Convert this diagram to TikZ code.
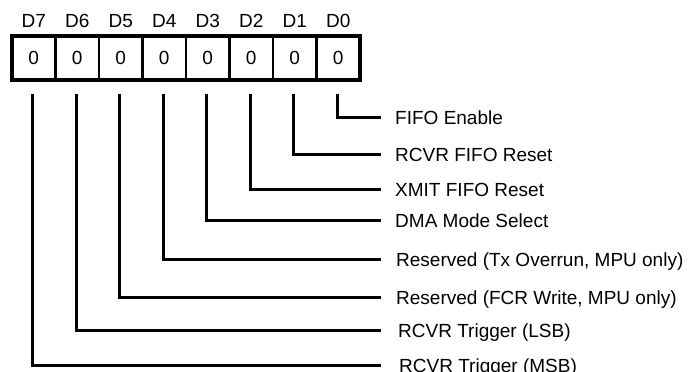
\documentclass[tikz,border=0pt]{standalone}
\usepackage{fontspec}
\setmainfont{Liberation Sans}
\usetikzlibrary{positioning}
\tikzset{
  bitcell/.style={draw,line width=2.5pt,minimum width=43.5pt,minimum height=44pt,
    outer sep=0pt,inner sep=0pt,text height=13.6pt,text depth=0pt},
  bitname/.style={inner sep=0pt,text height=13.6pt,text depth=0pt},
  bitlabel/.style={anchor=west,inner xsep=14pt,inner ysep=0pt,text height=14.6pt,text depth=0pt},
  wire/.style={line width=3pt}
}
\begin{document}
\begin{tikzpicture}
[x=1pt,y=-1pt,font=\fontsize{19}{22}\selectfont]
\useasboundingbox (0,0) rectangle (688,372);
% register cells
\node[bitcell] (b7) at (33.75,58) {0};
\node[bitcell,right=0pt of b7] (b6) {0};
\node[bitcell,right=0pt of b6] (b5) {0};
\node[bitcell,right=0pt of b5] (b4) {0};
\node[bitcell,right=0pt of b4] (b3) {0};
\node[bitcell,right=0pt of b3] (b2) {0};
\node[bitcell,right=0pt of b2] (b1) {0};
\node[bitcell,right=0pt of b1] (b0) {0};
\draw[line width=4pt] (b7.north west) rectangle (b0.south east);
% bit names
\foreach \b in {7,6,5,4,3,2,1,0}
  \node[bitname,above=8pt of b\b] (h\b) {D\b};
% wire tops
\foreach \b in {7,6,5,4,3,2,1,0}
  \coordinate (t\b) at ([xshift=-1pt,yshift=-14pt]b\b.south);
% bit meanings
\node[bitlabel] (l0) at (381,117) {FIFO Enable};
\node[bitlabel] (l1) at (381,154) {RCVR FIFO Reset};
\node[bitlabel] (l2) at (381,189) {XMIT FIFO Reset};
\node[bitlabel] (l3) at (381,220) {DMA Mode Select};
\node[bitlabel,inner xsep=15pt] (l4) at (381,259) {Reserved (Tx Overrun, MPU only)};
\node[bitlabel,inner xsep=15pt] (l5) at (381,297) {Reserved (FCR Write, MPU only)};
\node[bitlabel,inner xsep=17pt] (l6) at (381,330) {RCVR Trigger (LSB)};
\node[bitlabel,inner xsep=18pt] (l7) at (381,365) {RCVR Trigger (MSB)};
\foreach \b in {7,6,5,4,3,2,1,0}
  \draw[wire] (t\b) |- (l\b.west);

\end{tikzpicture}
\end{document}
